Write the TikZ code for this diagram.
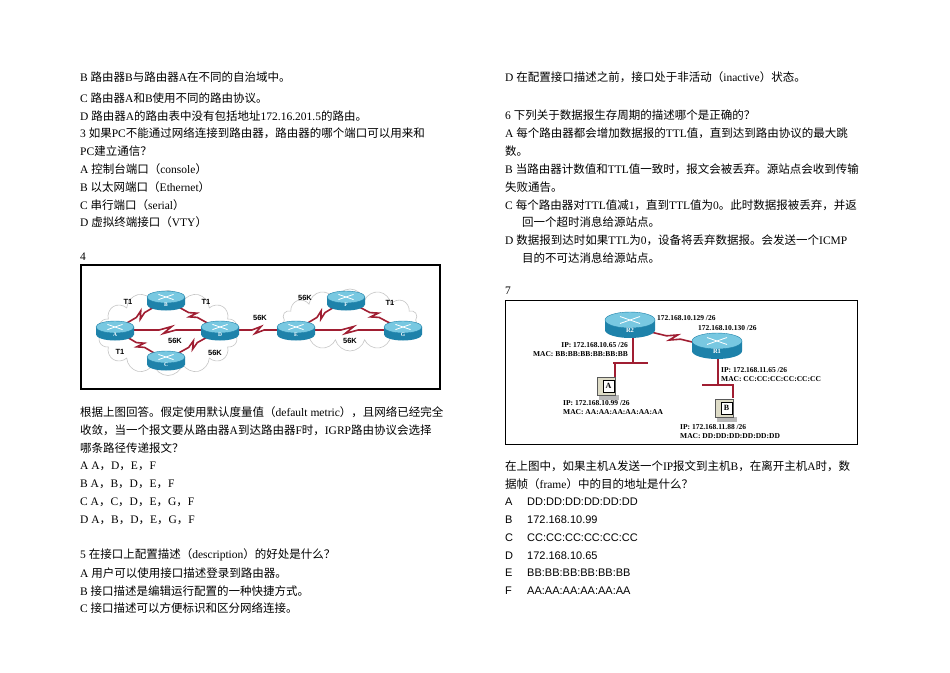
\documentclass[tikz,border=0pt]{standalone}
\usepackage{fontspec}
\usetikzlibrary{calc,shapes.symbols}
\setmainfont{Liberation Serif}
\setsansfont{Liberation Sans}
\newfontfamily\cjk{Noto Sans CJK SC}
\newcommand\latinf{\rmfamily}
\newcommand\nointer{\XeTeXinterchartokenstate=0\relax}
\XeTeXinterchartokenstate=1
\newXeTeXintercharclass\cjkcls
\newcount\ccnt
\ccnt="3000 \loop \XeTeXcharclass\ccnt=\cjkcls \advance\ccnt1 \ifnum\ccnt<"3040 \repeat
\ccnt="4E00 \loop \XeTeXcharclass\ccnt=\cjkcls \advance\ccnt1 \ifnum\ccnt<"A000 \repeat
\ccnt="FF00 \loop \XeTeXcharclass\ccnt=\cjkcls \advance\ccnt1 \ifnum\ccnt<"FFF0 \repeat
\XeTeXinterchartoks 0 \cjkcls = {\cjk}
\XeTeXinterchartoks 4095 \cjkcls = {\cjk}
\XeTeXinterchartoks \cjkcls 0 = {\latinf}
\XeTeXinterchartoks 4095 0 = {\latinf}
\definecolor{linkred}{RGB}{160,30,50}
\definecolor{rtop}{RGB}{120,200,225}
\definecolor{rside}{RGB}{30,130,170}
\tikzset{
  txt/.style={anchor=west,inner sep=0pt,font=\fontsize{11.5}{14}\selectfont},
  ans/.style={anchor=west,inner sep=0pt,font={\nointer\sffamily\fontsize{11}{13}\selectfont}},
  lbl/.style={inner sep=0pt,font={\nointer\sffamily\bfseries\fontsize{7.5}{8}\selectfont}},
  iplbl/.style={inner sep=0pt,font=\bfseries\fontsize{7.5}{9}\selectfont,align=left},
  lnk/.style={draw=linkred,line width=1.6pt},
  cloudst/.style={cloud,cloud puffs=14,draw=gray!45,fill=white,line width=0.6pt},
}
% router: name, x, y, half width, size, label size
\newcommand\router[6]{%
  \fill[rside] (#2-#4,#3) -- (#2-#4,#3+#5) arc[start angle=180,end angle=360,x radius=#4pt,y radius=#5*0.8pt] -- (#2+#4,#3) -- cycle;
  \fill[rtop,draw=rside,line width=0.4pt] (#2,#3) ellipse[x radius=#4pt,y radius=#5*0.8pt];
  \draw[white,line width=0.8pt] (#2-#4*0.4,#3-#5*0.35) -- (#2+#4*0.4,#3+#5*0.35) (#2-#4*0.4,#3+#5*0.35) -- (#2+#4*0.4,#3-#5*0.35);
  \node[font={\nointer\bfseries\fontsize{#6}{#6}\selectfont},text=white,inner sep=0pt] (#1) at (#2,#3+#5*1.05) {#1};
}
\newcommand\zig[2]{%
  \draw[lnk] (#1) -- ($(#1)!0.42!(#2)$) -- ($(#1)!0.54!(#2)!3.5pt!90:(#2)$) -- ($(#1)!0.46!(#2)!3.5pt!-90:(#2)$) -- ($(#1)!0.58!(#2)$) -- (#2);}
\newcommand\pc[4]{% name x y letter
  \fill[gray!55] (#2-8,#3+8) rectangle (#2+12,#3+13);
  \fill[yellow!25!gray!40,draw=gray!70!black] (#2-10,#3-10) rectangle (#2+8,#3+8);
  \fill[white,draw=black,line width=0.3pt] (#2-4,#3-7) rectangle (#2+7,#3+5);
  \node[font=\bfseries\fontsize{8}{8}\selectfont,inner sep=0pt] (#1) at (#2+1.5,#3-1) {#4};
}
\begin{document}
\begin{tikzpicture}[x=1pt,y=-1pt]
\useasboundingbox (0,0) rectangle (950,672);
\fill[white] (0,0) rectangle (950,672);
% left column
\node[txt] at (80,77) {B\ 路由器B与路由器A在不同的自治域中。};
\node[txt] at (80,98) {C\ 路由器A和B使用不同的路由协议。};
\node[txt] at (80,116) {D\ 路由器A的路由表中没有包括地址172.16.201.5的路由。};
\node[txt] at (80,133) {3\ 如果PC不能通过网络连接到路由器，路由器的哪个端口可以用来和};
\node[txt] at (80,151) {PC建立通信？};
\node[txt] at (80,169) {A\ 控制台端口（console）};
\node[txt] at (80,187) {B\ 以太网端口（Ethernet）};
\node[txt] at (80,205) {C\ 串行端口（serial）};
\node[txt] at (80,222) {D\ 虚拟终端接口（VTY）};
\node[txt] at (80,257) {4};
\node[txt] at (80,412) {根据上图回答。假定使用默认度量值（default metric），且网络已经完全};
\node[txt] at (80,430) {收敛，当一个报文要从路由器A到达路由器F时，IGRP路由协议会选择};
\node[txt] at (80,448) {哪条路径传递报文？};
\node[txt] at (80,466) {A\ A，D，E，F};
\node[txt] at (80,484) {B\ A，B，D，E，F};
\node[txt] at (80,502) {C\ A，C，D，E，G，F};
\node[txt] at (80,520) {D\ A，B，D，E，G，F};
\node[txt] at (80,555) {5\ 在接口上配置描述（description）的好处是什么？};
\node[txt] at (80,573) {A\ 用户可以使用接口描述登录到路由器。};
\node[txt] at (80,591) {B\ 接口描述是编辑运行配置的一种快捷方式。};
\node[txt] at (80,608) {C\ 接口描述可以方便标识和区分网络连接。};
% right column
\node[txt] at (505,77) {D\ 在配置接口描述之前，接口处于非活动（inactive）状态。};
\node[txt] at (505,115) {6\ 下列关于数据报生存周期的描述哪个是正确的？};
\node[txt] at (505,133) {A\ 每个路由器都会增加数据报的TTL值，直到达到路由协议的最大跳};
\node[txt] at (505,151) {数。};
\node[txt] at (505,169) {B\ 当路由器计数值和TTL值一致时，报文会被丢弃。源站点会收到传输};
\node[txt] at (505,187) {失败通告。};
\node[txt] at (505,205) {C\ 每个路由器对TTL值减1，直到TTL值为0。此时数据报被丢弃，并返};
\node[txt] at (522,222) {回一个超时消息给源站点。};
\node[txt] at (505,240) {D\ 数据报到达时如果TTL为0，设备将丢弃数据报。会发送一个ICMP};
\node[txt] at (522,258) {目的不可达消息给源站点。};
\node[txt] at (505,291) {7};
\node[txt] at (505,466) {在上图中，如果主机A发送一个IP报文到主机B，在离开主机A时，数};
\node[txt] at (505,484) {据帧（frame）中的目的地址是什么？};
\node[ans] at (505,502) {A}; \node[ans] at (527,502) {DD:DD:DD:DD:DD:DD};
\node[ans] at (505,520) {B}; \node[ans] at (527,520) {172.168.10.99};
\node[ans] at (505,538) {C}; \node[ans] at (527,538) {CC:CC:CC:CC:CC:CC};
\node[ans] at (505,556) {D}; \node[ans] at (527,556) {172.168.10.65};
\node[ans] at (505,573) {E}; \node[ans] at (527,573) {BB:BB:BB:BB:BB:BB};
\node[ans] at (505,591) {F}; \node[ans] at (527,591) {AA:AA:AA:AA:AA:AA};
% diagram 4
\draw[line width=1.2pt] (81,265) rectangle (440,389);
\node[cloudst,minimum width=140pt,minimum height=85pt] (cl1) at (168,333) {};
\node[cloudst,minimum width=135pt,minimum height=62pt] (cl2) at (350,320) {};
\coordinate (pa) at (115,330); \coordinate (pb) at (166,300); \coordinate (pc) at (166,360);
\coordinate (pd) at (220,330); \coordinate (pe) at (296,330); \coordinate (pf) at (346,300); \coordinate (pg) at (403,330);
\zig{pa}{pb} \zig{pb}{pd} \zig{pa}{pd} \zig{pa}{pc} \zig{pc}{pd} \zig{pd}{pe} \zig{pe}{pf} \zig{pf}{pg} \zig{pe}{pg}
\router{A}{115}{327}{19}{7.5}{5.5}
\router{B}{166}{297}{19}{7.5}{5.5}
\router{C}{166}{357}{19}{7.5}{5.5}
\router{D}{220}{327}{19}{7.5}{5.5}
\router{E}{296}{327}{19}{7.5}{5.5}
\router{F}{346}{297}{19}{7.5}{5.5}
\router{G}{403}{327}{19}{7.5}{5.5}
\node[lbl] (l1) at (128,302) {T1};
\node[lbl] (l2) at (206,302) {T1};
\node[lbl] (l3) at (175,341) {56K};
\node[lbl] (l4) at (120,352) {T1};
\node[lbl] (l5) at (215,353) {56K};
\node[lbl] (l6) at (260,318) {56K};
\node[lbl] (l7) at (305,298) {56K};
\node[lbl] (l8) at (390,303) {T1};
\node[lbl] (l9) at (350,341) {56K};
% diagram 7
\draw[line width=1pt] (505,300) rectangle (857,444);
\coordinate (r2c) at (630,327); \coordinate (r1c) at (717,348);
\zig{r2c}{r1c}
\draw[lnk] (633,330) -- (633,363) coordinate (j2);
\draw[lnk] (613,363) -- (648,363);
\draw[lnk] (615,363) -- (615,378);
\draw[lnk] (718,350) -- (718,385);
\draw[lnk] (702,385) -- (734,385);
\draw[lnk] (733,385) -- (733,398);
\router{R2}{630}{320}{25}{10}{6.5}
\router{R1}{717}{341}{25}{10}{6.5}
\pc{PA}{607}{387}{A}
\pc{PB}{725}{409}{B}
\node[iplbl,anchor=west] (t1) at (657,318) {172.168.10.129 /26};
\node[iplbl,anchor=west] (t2) at (698,328) {172.168.10.130 /26};
\node[iplbl,anchor=east,align=right] (t3) at (628,350) {IP: 172.168.10.65 /26\\MAC: BB:BB:BB:BB:BB:BB};
\node[iplbl,anchor=west] (t4) at (721,375) {IP: 172.168.11.65 /26\\MAC: CC:CC:CC:CC:CC:CC};
\node[iplbl,anchor=west] (t5) at (563,408) {IP: 172.168.10.99 /26\\MAC: AA:AA:AA:AA:AA:AA};
\node[iplbl,anchor=west] (t6) at (680,432) {IP: 172.168.11.88 /26\\MAC: DD:DD:DD:DD:DD:DD};
\end{tikzpicture}
\end{document}
